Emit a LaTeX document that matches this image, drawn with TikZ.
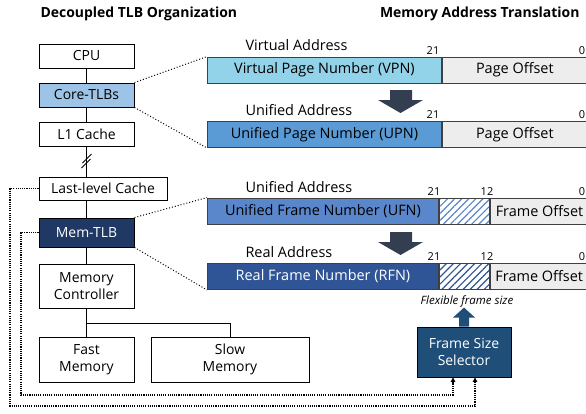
\documentclass[tikz,border=0pt]{standalone}
\usepackage{fontspec}
\setmainfont{Open Sans}
\usetikzlibrary{arrows.meta, positioning, calc, patterns.meta}
\definecolor{vpncolor}{HTML}{92D3EA}
\definecolor{corecolor}{HTML}{9DC3E6}
\definecolor{upncolor}{HTML}{5B9BD5}
\definecolor{ufncolor}{HTML}{5A86CB}
\definecolor{rfncolor}{HTML}{2F5597}
\definecolor{memtlbcolor}{HTML}{203864}
\definecolor{fsscolor}{HTML}{1F4E79}
\definecolor{offcolor}{HTML}{EDEDED}
\definecolor{bigarrow}{HTML}{333F50}
\definecolor{barline}{HTML}{404040}

\begin{document}
\begin{tikzpicture}[
    x=1bp, y=1bp,
    unit/.style={draw, line width=0.9pt, inner sep=0pt, minimum width=95bp, minimum height=24bp,
                 font=\fontsize{14}{17.5}\selectfont, align=center},
    seg/.style={draw=barline, line width=0.9pt, inner sep=0pt, minimum height=26bp,
                font=\fontsize{14.5}{17.5}\selectfont, anchor=west},
    hatch/.style={seg, preaction={fill=white},
                  pattern={Lines[angle=45, distance=5bp, line width=1.2bp]}, pattern color=#1},
    addr/.style={font=\fontsize{14.5}{17.5}\selectfont, anchor=west},
    bit/.style={font=\fontsize{11}{13}\selectfont},
    title/.style={font=\fontsize{14}{16}\selectfont\bfseries},
    link/.style={dotted, line width=1pt},
    feed/.style={line width=1.1pt, dash pattern=on 1.1pt off 1.1pt, -{Triangle[length=4.5bp, width=4.5bp]}}
]
    \useasboundingbox (0,0) rectangle (586,-413);

    % --- titles ---
    \node[title, anchor=west] (ltitle) at (37,-14) {Decoupled TLB Organization};
    \node[title, anchor=east] (rtitle) at (583,-14) {Memory Address Translation};

    % --- TLB organization ---
    \node[unit] (cpu) at (86.5,-56) {CPU};
    \node[unit, fill=corecolor] (core) at (86.5,-95) {Core-TLBs};
    \node[unit] (l1) at (86.5,-134) {L1 Cache};
    \node[unit, minimum width=128bp, minimum height=23bp] (llc) at (103,-188.5) {Last-level Cache};
    \node[unit, fill=memtlbcolor, text=white, minimum height=29bp] (memtlb) at (86.5,-232.5) {Mem-TLB};
    \node[unit, minimum height=44bp] (mc) at (86.5,-286) {Memory\\Controller};
    \node[unit, minimum height=45bp] (fast) at (86.5,-359.5) {Fast\\Memory};
    \node[unit, minimum width=158bp, minimum height=45bp] (slow) at (230,-359.5) {Slow\\Memory};

    \draw[line width=0.9pt] (cpu) -- (core) -- (l1);
    \draw[line width=0.9pt] (l1.south) -- (l1.south |- llc.north);
    \coordinate (cut) at (86.5,-161);
    \draw[line width=0.9pt] ($(cut)+(-5,-7)$) -- ($(cut)+(4,2)$)
                            ($(cut)+(-4,-2)$) -- ($(cut)+(5,7)$);
    \draw[line width=0.9pt] (memtlb.north) -- (memtlb.north |- llc.south);
    \draw[line width=0.9pt] (memtlb) -- (mc);
    \coordinate (fork) at (86.5,-323);
    \draw[line width=0.9pt] (mc.south) -- (fast.north);
    \draw[line width=0.9pt] (fork) -| (slow.north);

    % --- virtual address ---
    \node[addr] (valbl) at (242,-45) {Virtual Address};
    \node[seg, fill=vpncolor, minimum width=234bp] (vpn) at (207,-70) {Virtual Page Number (VPN)};
    \node[seg, fill=offcolor, minimum width=145bp] (voff) at (vpn.east) {Page Offset};
    \node[bit] (v21) at (433,-51) {21};
    \node[bit] (v0) at (582,-51) {0};

    % --- unified address ---
    \node[addr] (ualbl) at (242,-110) {Unified Address};
    \node[seg, fill=upncolor, minimum width=234bp] (upn) at (207,-134.5) {Unified Page Number (UPN)};
    \node[seg, fill=offcolor, minimum width=145bp] (uoff) at (upn.east) {Page Offset};
    \node[bit] (u21) at (433,-115) {21};
    \node[bit] (u0) at (582,-115) {0};

    % --- unified frame ---
    \node[addr] (uflbl) at (242,-187) {Unified Address};
    \node[seg, fill=ufncolor, minimum width=231bp] (ufn) at (207,-211) {Unified Frame Number (UFN)};
    \node[hatch=ufncolor, minimum width=50bp] (uhat) at (ufn.east) {};
    \node[seg, fill=offcolor, minimum width=98bp] (ufo) at (uhat.east) {Frame Offset};
    \node[bit] (f21) at (434,-192) {21};
    \node[bit] (f12) at (487,-192) {12};
    \node[bit] (f0) at (582,-192) {0};

    % --- real frame ---
    \node[addr] (ralbl) at (242,-252) {Real Address};
    \node[seg, fill=rfncolor, text=white, minimum width=231bp] (rfn) at (207,-276.5) {Real Frame Number (RFN)};
    \node[hatch=rfncolor, minimum width=50bp] (rhat) at (rfn.east) {};
    \node[seg, fill=offcolor, minimum width=98bp] (rfo) at (rhat.east) {Frame Offset};
    \node[bit] (r21) at (434,-257) {21};
    \node[bit] (r12) at (487,-257) {12};
    \node[bit] (r0) at (582,-257) {0};

    % --- translation arrows ---
    \foreach \top in {-90,-232} {
        \fill[bigarrow] (390,\top) -- (412,\top) -- (412,\top-10) -- (423,\top-10)
            -- (400.5,\top-23) -- (378,\top-10) -- (390,\top-10) -- cycle;
    }

    % --- zoom lines ---
    \draw[link] (core.north east) -- (vpn.north west);
    \draw[link] (core.south east) -- (upn.south west);
    \draw[link] (memtlb.north east) -- (ufn.north west);
    \draw[link] (memtlb.south east) -- (rfn.south west);

    % --- frame size selector ---
    \node[unit, fill=fsscolor, text=white, minimum width=94bp, minimum height=50bp] (fss) at (464,-352) {Frame Size\\Selector};
    \node[font=\fontsize{11.5}{13}\selectfont\itshape] (flex) at (467,-301) {Flexible frame size};
    \fill[fsscolor] ($(fss.north)+(-5,0)$) -- ++(0,9) -- ++(-6,0) -- ($(fss.north)+(0,19)$)
        -- ($(fss.north)+(11,9)$) -- ++(-6,0) -- ($(fss.north)+(5,0)$) -- cycle;

    \coordinate (outer) at (10,-406);
    \coordinate (inner) at (21,-395);
    \draw[feed] (llc.west) -| (outer) -| ($(fss.south)+(11,0)$);
    \draw[feed] (memtlb.west) -| (inner) -| ($(fss.south)+(-11,0)$);
\end{tikzpicture}
\end{document}
